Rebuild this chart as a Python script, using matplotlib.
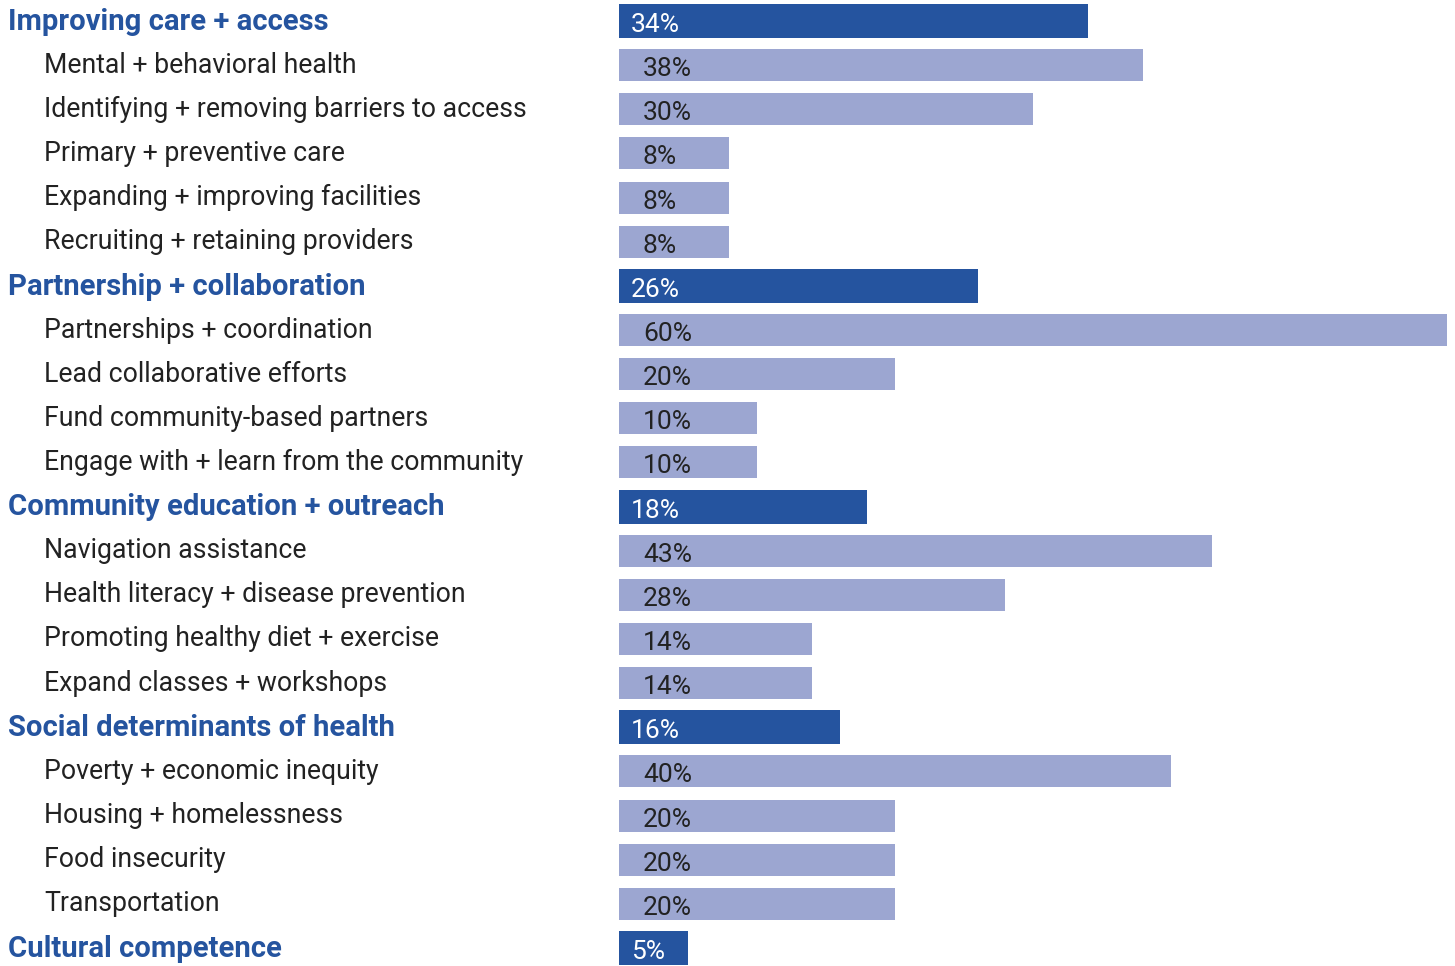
import matplotlib
matplotlib.use("Agg")
from matplotlib import pyplot as plt
from matplotlib import transforms

plt.rcParams['font.family'] = ['Roboto', 'DejaVu Sans']

# Rows of the chart, top to bottom
labels = [
    "Improving care + access",
    "Mental + behavioral health",
    "Identifying + removing barriers to access",
    "Primary + preventive care",
    "Expanding + improving facilities",
    "Recruiting + retaining providers",
    "Partnership + collaboration",
    "Partnerships + coordination",
    "Lead collaborative efforts",
    "Fund community-based partners",
    "Engage with + learn from the community",
    "Community education + outreach",
    "Navigation assistance",
    "Health literacy + disease prevention",
    "Promoting healthy diet + exercise",
    "Expand classes + workshops",
    "Social determinants of health",
    "Poverty + economic inequity",
    "Housing + homelessness",
    "Food insecurity",
    "Transportation",
    "Cultural competence",
]
values = [34, 38, 30, 8, 8, 8, 26, 60, 20, 10, 10, 18, 43, 28, 14, 14, 16, 40, 20, 20, 20, 5]
is_heading = [True, False, False, False, False, False,
              True, False, False, False, False,
              True, False, False, False, False,
              True, False, False, False, False,
              True]

dark = "#25549f"
light = "#9ca6d1"
text_col = "#222222"

W, H = 1455, 966
fig = plt.figure(figsize=(W / 100, H / 100), dpi=100)

# axes start where the bars start (x=619px), 60% reaches x=1447px
x0 = 619
ax = fig.add_axes([x0 / W, 0, 1 - x0 / W, 1])
px_per_pct = (1447 - x0) / 60
ax.set_xlim(0, (W - x0) / px_per_pct)

step = (948 - 21) / 21
ax.set_ylim(21 + (H - 948) / step, -21 / step)
ax.axis("off")

fig_x = transforms.blended_transform_factory(fig.transFigure, ax.transData)

for i, (lab, v, hd) in enumerate(zip(labels, values, is_heading)):
    if hd:
        ax.barh(i, v, height=34 / step, color=dark, edgecolor="none")
        ax.text(12 / px_per_pct, i + 0.09, f"{v}%", color="white", fontsize=19,
                va="center")
        ax.text(8 / W, i + 0.02, lab, transform=fig_x, color=dark, fontsize=21.1,
                fontweight="bold", va="center", clip_on=False)
    else:
        ax.barh(i, v, height=32 / step, color=light, edgecolor="none")
        ax.text(24 / px_per_pct, i + 0.09, f"{v}%", color=text_col, fontsize=19,
                va="center")
        ax.text(44 / W, i, lab, transform=fig_x, color=text_col, fontsize=19.2,
                va="center", clip_on=False)

fig.savefig("out.png", dpi=100)
